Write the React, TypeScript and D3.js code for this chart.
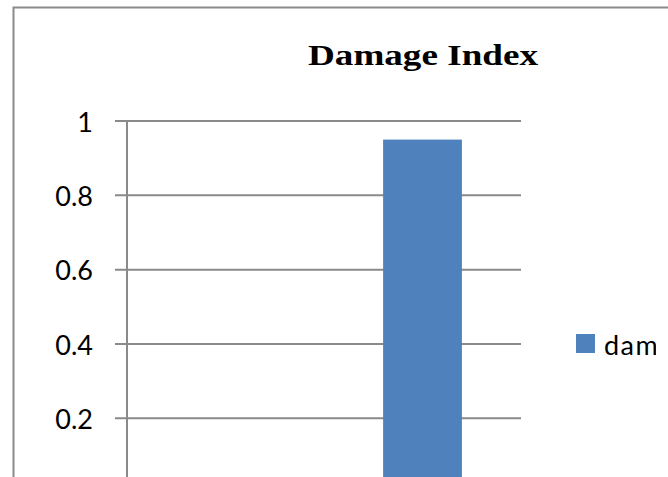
import React from "react";
import * as d3 from "d3";

const categories: string[] = ["1", "2"];
const seriesName = "damage index";
const values: number[] = [0, 0.95];
const yTicks: number[] = [0.2, 0.4, 0.6, 0.8, 1];
const title = "Damage Index";

const W = 668;
const H = 477;

export default function App() {
  const plotLeft = 127;
  const plotRight = 521;
  const y = d3.scaleLinear().domain([0, 1]).range([492.7, 121]);
  const x = d3
    .scaleBand<string>()
    .domain(categories)
    .range([plotLeft, plotRight])
    .paddingInner(0.6)
    .paddingOuter(0.3);
  const grid = "#8a8a8a";
  const labelFont = "Lato, 'Open Sans', sans-serif";

  return (
    <svg
      width={W}
      height={H}
      style={{ position: "fixed", left: 0, top: 0, background: "#fff" }}
    >
      <defs>
        <clipPath id="legendClip">
          <rect x={560} y={300} width={96} height={90} />
        </clipPath>
      </defs>
      <rect x={0} y={0} width={W} height={H} fill="#fff" />
      <rect
        x={13.5}
        y={7.5}
        width={720}
        height={520}
        fill="none"
        stroke={grid}
        strokeWidth={2}
      />
      <text
        x={423}
        y={64.5}
        textAnchor="middle"
        fontFamily="'Liberation Serif', 'Times New Roman', serif"
        fontWeight="bold"
        fontSize={30}
        textLength={230}
        lengthAdjust="spacingAndGlyphs"
        fill="#000"
      >
        {title}
      </text>
      {yTicks.map((t) => (
        <g key={t}>
          <line
            x1={115}
            x2={plotRight}
            y1={y(t)}
            y2={y(t)}
            stroke={grid}
            strokeWidth={2}
          />
          <text
            x={93}
            y={y(t)}
            textAnchor="end"
            dominantBaseline="central"
            fontFamily={labelFont}
            fontSize={27}
            fill="#000"
          >
            {d3.format("~g")(t)}
          </text>
        </g>
      ))}
      <line
        x1={plotLeft}
        x2={plotLeft}
        y1={y(1)}
        y2={H + 10}
        stroke={grid}
        strokeWidth={2}
      />
      {categories.map((c, i) =>
        values[i] > 0 ? (
          <rect
            key={c}
            x={x(c)}
            y={y(values[i])}
            width={x.bandwidth()}
            height={y(0) - y(values[i])}
            fill="#4F81BD"
          />
        ) : null
      )}
      <rect x={576} y={334} width={19} height={19} fill="#4F81BD" />
      <g clipPath="url(#legendClip)">
        <text
          x={604}
          y={344}
          dominantBaseline="central"
          fontFamily={labelFont}
          fontSize={27}
          letterSpacing={1.5}
          fill="#000"
        >
          {seriesName}
        </text>
      </g>
    </svg>
  );
}
